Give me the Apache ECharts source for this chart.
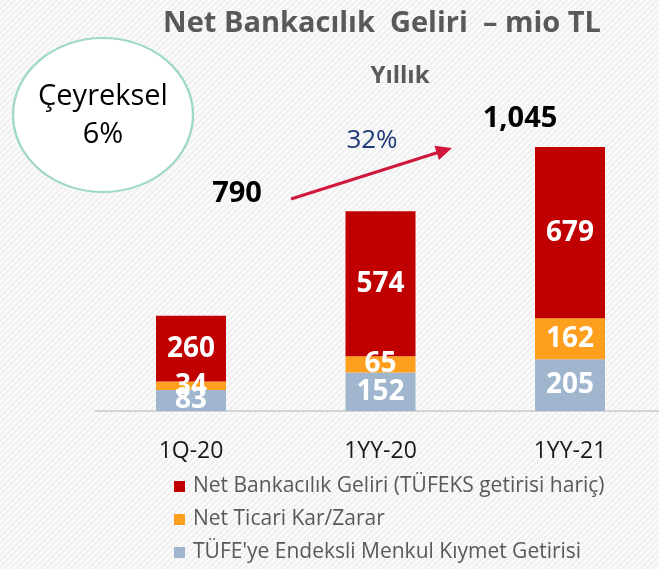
<!DOCTYPE html>
<html><head><meta charset="utf-8">
<script src="https://cdn.jsdelivr.net/npm/echarts@6/dist/echarts.min.js"></script>
<style>html,body{margin:0;padding:0;background:#fff}#c{width:659px;height:569px}</style>
</head><body><div id="c"></div>
<script>
const categories = ['1Q-20', '1YY-20', '1YY-21'];
const nameBank = 'Net Bankacılık Geliri (TÜFEKS getirisi hariç)';
const nameTrade = 'Net Ticari Kar/Zarar';
const nameTufe = "TÜFE'ye Endeksli Menkul Kıymet Getirisi";
const netBankacilik = [260, 574, 679];
const netTicari = [34, 65, 162];
const tufeGetiri = [83, 152, 205];
const annualTotals = [790, 1045];
const growthLabel = '32%';
const quarterlyLines = ['Çeyreksel', '6%'];
const titleText = 'Net Bankacılık  Geliri  – mio TL';
const subtitleText = 'Yıllık';

const FONT = '"Open Sans", sans-serif';
const pc = document.createElement('canvas'); pc.width = 6; pc.height = 6;
const pctx = pc.getContext('2d');
pctx.fillStyle = '#f1f1f1'; pctx.fillRect(0, 0, 6, 6);
pctx.strokeStyle = '#ffffff'; pctx.lineWidth = 1.4; pctx.beginPath();
pctx.moveTo(-1, 7); pctx.lineTo(7, -1);
pctx.moveTo(-1, 1); pctx.lineTo(1, -1);
pctx.moveTo(5, 7); pctx.lineTo(7, 5);
pctx.stroke();

const chart = echarts.init(document.getElementById('c'), null, {renderer: 'canvas'});
const lbl = {show: true, position: 'inside', color: '#fff', fontFamily: FONT, fontWeight: 'bold', fontSize: 28};

// arrow
const a0 = [291, 199], a1 = [452, 148];
const dx = a1[0] - a0[0], dy = a1[1] - a0[1], L = Math.hypot(dx, dy);
const ux = dx / L, uy = dy / L, px = -uy, py = ux;
const hl = 16, hw = 7.5;
const bx = a1[0] - ux * hl, by = a1[1] - uy * hl;

chart.setOption({
  backgroundColor: {image: pc, repeat: 'repeat'},
  animation: false,
  title: [
    {text: titleText, left: 377, top: 4, textAlign: 'center',
     textStyle: {fontFamily: FONT, fontWeight: 'bold', fontSize: 29, color: '#595959'}},
    {text: subtitleText, left: 395, top: 59, textAlign: 'center',
     textStyle: {fontFamily: FONT, fontWeight: 'bold', fontSize: 24, color: '#595959'}}
  ],
  legend: {
    orient: 'vertical', left: 169, top: 471, height: 100,
    data: [nameBank, nameTrade, nameTufe],
    itemWidth: 11, itemHeight: 11, itemGap: 12,
    icon: 'rect',
    textStyle: {fontFamily: FONT, fontSize: 21, color: '#595959', lineHeight: 21, padding: [0, 0, 0, 3]}
  },
  grid: [
    {left: 191, right: 89, top: 108, height: 303},
    {left: 95, right: 0, top: 108, height: 303}
  ],
  xAxis: [
    {type: 'category', data: categories, gridIndex: 0, boundaryGap: false,
     axisLine: {show: false}, axisTick: {show: false}, splitLine: {show: false},
     axisLabel: {fontFamily: FONT, fontSize: 23, color: '#1a1a1a', margin: 29}},
    {type: 'category', data: [''], gridIndex: 1,
     axisLine: {lineStyle: {color: '#d4d4d4', width: 2}}, axisTick: {show: false}, axisLabel: {show: false}}
  ],
  yAxis: [
    {type: 'value', min: 0, max: 1200, show: false, gridIndex: 0},
    {type: 'value', min: 0, max: 1200, show: false, gridIndex: 1}
  ],
  series: [
    {name: nameTufe, type: 'bar', stack: 't', data: tufeGetiri, barWidth: 70, z: 3,
     itemStyle: {color: '#9fb6ce'}, label: lbl},
    {name: nameTrade, type: 'bar', stack: 't', data: netTicari, barWidth: 70, z: 3,
     itemStyle: {color: '#ff9f1e'}, label: lbl},
    {name: nameBank, type: 'bar', stack: 't', data: netBankacilik, barWidth: 70, z: 3,
     itemStyle: {color: '#c00000'}, label: lbl}
  ],
  graphic: [
    {type: 'circle', x: 103, y: 115, scaleX: 90 / 77, shape: {cx: 0, cy: 0, r: 77},
     style: {fill: '#ffffff', stroke: '#9ed8cb', lineWidth: 2, strokeNoScale: true}},
    {type: 'text', x: 103, y: 97, style: {text: quarterlyLines[0], fontFamily: FONT, fontSize: 29, fill: '#000', textAlign: 'center', textVerticalAlign: 'middle'}},
    {type: 'text', x: 103, y: 135, style: {text: quarterlyLines[1], fontFamily: FONT, fontSize: 29, fill: '#000', textAlign: 'center', textVerticalAlign: 'middle'}},
    {type: 'text', x: 237, y: 194, style: {text: annualTotals[0].toLocaleString('en-US'), fontFamily: FONT, fontWeight: 'bold', fontSize: 29, fill: '#000', textAlign: 'center', textVerticalAlign: 'middle'}},
    {type: 'text', x: 520, y: 119, style: {text: annualTotals[1].toLocaleString('en-US'), fontFamily: FONT, fontWeight: 'bold', fontSize: 29, fill: '#000', textAlign: 'center', textVerticalAlign: 'middle'}},
    {type: 'text', x: 372, y: 141, style: {text: growthLabel, fontFamily: FONT, fontSize: 26, fill: '#203a78', textAlign: 'center', textVerticalAlign: 'middle'}},
    {type: 'line', shape: {x1: a0[0], y1: a0[1], x2: bx + ux * 2, y2: by + uy * 2}, style: {stroke: '#d0173c', lineWidth: 3}},
    {type: 'polygon', shape: {points: [a1, [bx + px * hw, by + py * hw], [bx - px * hw, by - py * hw]]}, style: {fill: '#d0173c'}}
  ]
});
</script>
</body></html>
